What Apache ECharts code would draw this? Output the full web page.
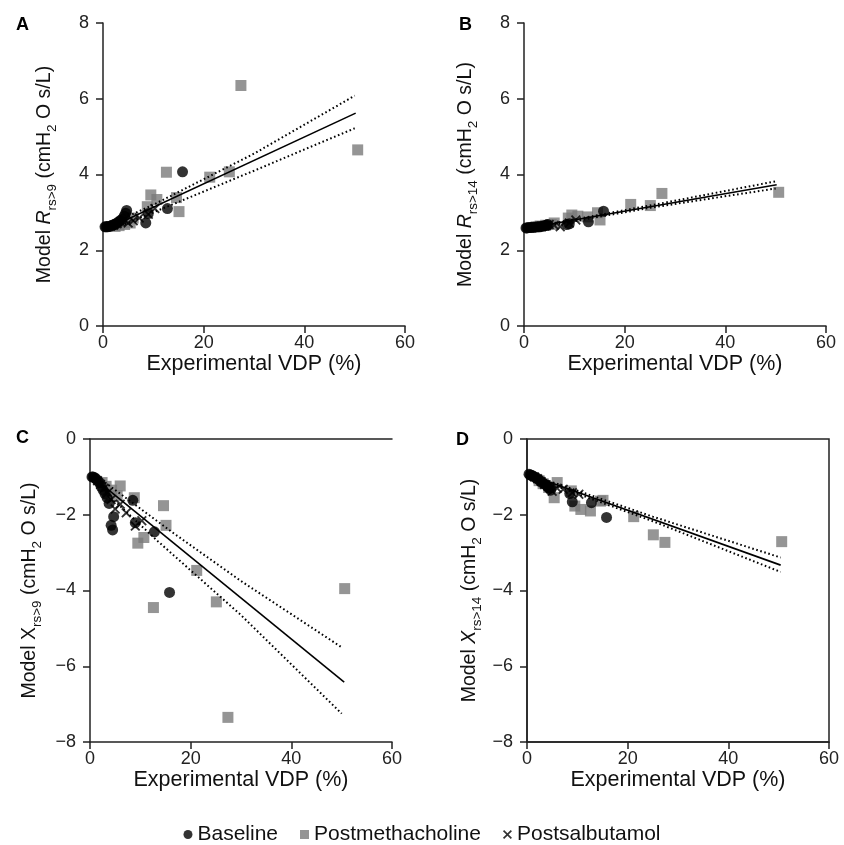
<!DOCTYPE html>
<html><head><meta charset="utf-8">
<script src="https://cdn.jsdelivr.net/npm/echarts@6/dist/echarts.min.js"></script>
<style>html,body{margin:0;padding:0;background:#fff}#c{width:844px;height:845px}</style>
</head><body><div id="c"></div>
<script>
// ---- Data ----
const baseVDP = [15.8, 12.8, 9.0, 8.5, 4.7, 4.5, 4.2, 3.8, 3.4, 3.0, 2.6, 2.2, 1.9, 1.5, 1.2, 0.9, 0.6, 0.4];
const baseRA  = [4.07, 3.10, 2.97, 2.72, 3.05, 2.98, 2.90, 2.82, 2.78, 2.74, 2.70, 2.68, 2.66, 2.64, 2.63, 2.62, 2.62, 2.62];
const baseRB  = [3.03, 2.75, 2.70, 2.68, 2.68, 2.66, 2.65, 2.64, 2.63, 2.62, 2.62, 2.61, 2.61, 2.60, 2.60, 2.60, 2.59, 2.59];
const baseXC  = [-4.05, -2.45, -2.21, -1.62, -2.05, -2.40, -2.28, -1.70, -1.55, -1.45, -1.35, -1.25, -1.15, -1.10, -1.05, -1.02, -1.00, -1.00];
const baseXD  = [-2.07, -1.68, -1.66, -1.44, -1.35, -1.30, -1.28, -1.22, -1.18, -1.15, -1.10, -1.06, -1.03, -1.00, -0.98, -0.96, -0.95, -0.93];

const mchVDP = [50.6, 27.4, 25.1, 21.2, 15.1, 14.6, 12.6, 10.7, 9.5, 8.8, 6.0, 5.4, 4.3, 3.2, 2.4];
const mchRA  = [4.65, 6.35, 4.07, 3.93, 3.02, 3.39, 4.06, 3.34, 3.46, 3.15, 2.85, 2.72, 2.68, 2.65, 2.63];
const mchRB  = [3.53, 3.50, 3.18, 3.21, 2.80, 2.99, 2.88, 2.90, 2.93, 2.85, 2.72, 2.68, 2.66, 2.64, 2.62];
const mchXC  = [-3.95, -7.35, -4.30, -3.47, -2.28, -1.76, -4.45, -2.60, -2.75, -1.55, -1.24, -1.50, -1.35, -1.25, -1.15];
const mchXD  = [-2.71, -2.73, -2.53, -2.05, -1.62, -1.64, -1.90, -1.86, -1.77, -1.37, -1.15, -1.55, -1.28, -1.18, -1.10];

const salVDP = [10.3, 9.0, 7.2, 6.0, 5.0, 4.2, 3.5, 2.8, 2.1, 1.5];
const salRA  = [3.10, 2.95, 2.85, 2.78, 2.72, 2.80, 2.75, 2.70, 2.66, 2.64];
const salRB  = [2.80, 2.72, 2.62, 2.66, 2.68, 2.64, 2.63, 2.62, 2.61, 2.60];
const salXC  = [-2.16, -2.30, -1.95, -1.72, -1.85, -1.60, -1.42, -1.30, -1.20, -1.10];
const salXD  = [-1.46, -1.42, -1.33, -1.30, -1.38, -1.25, -1.20, -1.12, -1.05, -1.00];

// regression lines and confidence bands [VDP, value]
const fitA = [[0.5, 2.55], [50.2, 5.62]];
const upA  = [[2, 2.72], [10, 3.20], [30, 4.55], [50, 6.08]];
const loA  = [[2, 2.56], [10, 3.00], [30, 4.10], [50, 5.22]];
const fitB = [[0.5, 2.58], [50.2, 3.73]];
const upB  = [[2, 2.62], [25, 3.18], [50, 3.82]];
const loB  = [[2, 2.58], [25, 3.12], [50, 3.63]];
const fitC = [[0.5, -1.00], [50.5, -6.42]];
const upC  = [[3, -1.15], [16, -2.43], [30, -3.75], [50, -5.50]];
const loC  = [[3, -1.40], [13.4, -2.69], [30, -4.65], [50, -7.25]];
const fitD = [[0.5, -0.95], [50.4, -3.33]];
const upD  = [[2, -1.00], [25, -2.05], [50.4, -3.13]];
const loD  = [[2, -1.06], [25, -2.17], [50.4, -3.51]];

const panelLetters = ['A', 'B', 'C', 'D'];
const yNames = [
  '{n|Model }{i|R}{s|rs>9}{n| (cmH}{s|2}{n| O s/L)}',
  '{n|Model }{i|R}{s|rs>14}{n| (cmH}{s|2}{n| O s/L)}',
  '{n|Model X}{s|rs>9}{n| (cmH}{s|2}{n| O s/L)}',
  '{n|Model }{i|X}{s|rs>14}{n| (cmH}{s|2}{n| O s/L)}'
];
const xName = 'Experimental VDP (%)';
const legendNames = ['Baseline', 'Postmethacholine', 'Postsalbutamol'];

// ---- Build chart ----
const FONT = '"Liberation Sans", Arial, sans-serif';
const CROSS = 'path://M0,1.3L1.3,0L5,3.7L8.7,0L10,1.3L6.3,5L10,8.7L8.7,10L5,6.3L1.3,10L0,8.7L3.7,5Z';
const zip = (xs, ys) => xs.map((x, i) => [x, ys[i]]);

const panels = [
  {base: baseRA, mch: mchRA, sal: salRA, fit: fitA, up: upA, lo: loA, min: 0, max: 8},
  {base: baseRB, mch: mchRB, sal: salRB, fit: fitB, up: upB, lo: loB, min: 0, max: 8},
  {base: baseXC, mch: mchXC, sal: salXC, fit: fitC, up: upC, lo: loC, min: -8, max: 0},
  {base: baseXD, mch: mchXD, sal: salXD, fit: fitD, up: upD, lo: loD, min: -8, max: 0}
];
const grids = [
  {left: 103, top: 23, width: 302, height: 303},
  {left: 524, top: 23, width: 302, height: 303},
  {left: 90, top: 439, width: 302, height: 303},
  {left: 527, top: 439, width: 302, height: 303, show: true, borderColor: '#222', borderWidth: 1.5}
];
const yGaps = [44, 44, 46, 43];
const axisCol = '#222';
const xAxes = [], yAxes = [], series = [];
panels.forEach((p, i) => {
  xAxes.push({
    gridIndex: i, type: 'value', min: 0, max: 60, interval: 20,
    axisLine: {onZero: false, lineStyle: {color: axisCol, width: 1.5}},
    axisTick: {length: 7, lineStyle: {color: axisCol, width: 1.5}},
    axisLabel: {fontSize: 18, color: axisCol, margin: 8, fontFamily: FONT},
    splitLine: {show: false},
    name: xName, nameLocation: 'middle', nameGap: 22,
    nameTextStyle: {fontSize: 21.5, color: '#111', fontFamily: FONT}
  });
  yAxes.push({
    gridIndex: i, type: 'value', min: p.min, max: p.max, interval: 2,
    axisLine: {onZero: false, lineStyle: {color: axisCol, width: 1.5}},
    axisTick: {length: 7, lineStyle: {color: axisCol, width: 1.5}},
    axisLabel: {fontSize: 18, color: axisCol, margin: 14, fontFamily: FONT,
      formatter: v => String(v).replace('-', '\u2212')},
    splitLine: {show: false},
    name: yNames[i], nameLocation: 'middle', nameGap: yGaps[i], nameRotate: 90,
    nameTextStyle: {
      fontFamily: FONT, color: '#111',
      rich: {
        n: {fontSize: 19.5, lineHeight: 28, fontFamily: FONT, color: '#111'},
        i: {fontSize: 19.5, lineHeight: 28, fontStyle: 'italic', fontFamily: FONT, color: '#111'},
        s: {fontSize: 13.5, lineHeight: 14, verticalAlign: 'bottom', fontFamily: FONT, color: '#111'}
      }
    }
  });
  const common = {type: 'scatter', xAxisIndex: i, yAxisIndex: i, emphasis: {disabled: true}};
  series.push(Object.assign({}, common, {name: 'Postmethacholine', symbol: 'rect', symbolSize: 11,
    itemStyle: {color: '#7b7b7b'}, data: zip(mchVDP, p.mch), z: 2}));
  series.push(Object.assign({}, common, {name: 'Baseline', symbol: 'circle', symbolSize: 11,
    itemStyle: {color: '#000'}, data: zip(baseVDP, p.base), z: 3}));
  series.push(Object.assign({}, common, {name: 'Postsalbutamol', symbol: CROSS, symbolSize: 10,
    itemStyle: {color: '#000'}, data: zip(salVDP, p.sal), z: 4}));
  const lineCommon = {type: 'line', xAxisIndex: i, yAxisIndex: i, symbol: 'none', silent: true, z: 5, animation: false};
  series.push(Object.assign({}, lineCommon, {name: 'fit', data: p.fit, lineStyle: {color: '#000', width: 1.6}}));
  series.push(Object.assign({}, lineCommon, {name: 'upper', data: p.up, lineStyle: {color: '#000', width: 2, type: [1.6, 2.6]}}));
  series.push(Object.assign({}, lineCommon, {name: 'lower', data: p.lo, lineStyle: {color: '#000', width: 2, type: [1.6, 2.6]}}));
});
// top line of panel C
xAxes.push({gridIndex: 2, type: 'value', min: 0, max: 60, position: 'top',
  axisLine: {onZero: false, lineStyle: {color: axisCol, width: 1.5}},
  axisTick: {show: false}, axisLabel: {show: false}, splitLine: {show: false}});

const letterPos = [[16, 16], [459, 16], [16, 429], [456, 431]];
const option = {
  animation: false,
  textStyle: {fontFamily: FONT},
  grid: grids,
  xAxis: xAxes,
  yAxis: yAxes,
  series: series,
  legend: {
    left: 'center', top: 819,
    data: [
      {name: legendNames[0], icon: 'circle'},
      {name: legendNames[1], icon: 'rect'},
      {name: legendNames[2], icon: CROSS}
    ],
    itemWidth: 9, itemHeight: 9, itemGap: 22,
    textStyle: {fontSize: 21, color: '#111', fontFamily: FONT},
    selectedMode: false
  },
  graphic: panelLetters.map((t, i) => ({
    type: 'text', left: letterPos[i][0], top: letterPos[i][1],
    style: {text: t, font: 'bold 18px ' + FONT, fill: '#000'}
  }))
};
const chart = echarts.init(document.getElementById('c'), null, {renderer: 'canvas'});
chart.setOption(option);
</script></body></html>
